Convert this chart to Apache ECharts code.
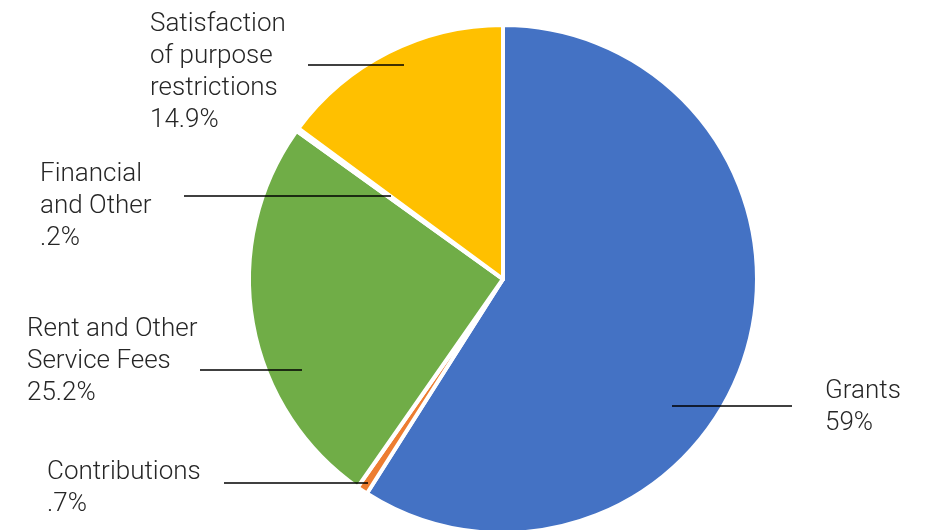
<!DOCTYPE html>
<html>
<head>
<meta charset="utf-8">
<script src="https://cdn.jsdelivr.net/npm/echarts@6/dist/echarts.min.js"></script>
<style>
html,body{margin:0;padding:0;background:#fff;}
#chart{width:925px;height:530px;}
</style>
</head>
<body>
<div id="chart"></div>
<script>
const categories = ["Grants", "Contributions", "Rent and Other\nService Fees", "Financial\nand Other", "Satisfaction\nof purpose\nrestrictions"];
const values = [59, 0.7, 25.2, 0.2, 14.9];
const colors = ["#4472C4", "#ED7D31", "#70AD47", "#A5A5A5", "#FFC000"];

// label placement (style only): text top-left and leader line start/end
const labelPlace = [
  { x: 825, y: 375, line: [[672, 406], [792, 406]] },
  { x: 47,  y: 456, line: [[368, 483], [224, 483]] },
  { x: 27,  y: 313, line: [[302, 370], [200, 370]] },
  { x: 40,  y: 158, line: [[391, 196], [184, 196]] },
  { x: 150, y: 8,   line: [[404, 65],  [308, 65]] }
];

const pieBase = {
  type: 'pie',
  center: [503, 279],
  radius: [0, 254],
  startAngle: 90,
  clockwise: true,
  avoidLabelOverlap: false
};

const chart = echarts.init(document.getElementById('chart'), null, { renderer: 'canvas' });
chart.setOption({
  animation: false,
  backgroundColor: '#ffffff',
  series: [
    Object.assign({}, pieBase, {
      z: 1,
      itemStyle: { borderColor: '#ffffff', borderWidth: 4 },
      label: { show: false },
      labelLine: { show: false },
      data: categories.map((c, i) => ({ name: c, value: values[i], itemStyle: { color: colors[i] } }))
    }),
    Object.assign({}, pieBase, {
      z: 5,
      silent: true,
      itemStyle: { color: 'rgba(0,0,0,0)', borderWidth: 0 },
      label: {
        show: true,
        position: 'outside',
        color: '#262626',
        fontFamily: 'Roboto',
        fontWeight: 300,
        fontSize: 26,
        lineHeight: 32,
        formatter: function (p) {
          const v = String(p.value).replace(/^0\./, '.');
          return p.name + '\n' + v + '%';
        }
      },
      labelLine: { show: true, lineStyle: { color: '#000000', width: 1.3 } },
      labelLayout: function (params) {
        const pl = labelPlace[params.dataIndex];
        return {
          x: pl.x,
          y: pl.y,
          align: 'left',
          verticalAlign: 'top',
          labelLinePoints: [pl.line[0], pl.line[1], pl.line[1]]
        };
      },
      data: categories.map((c, i) => ({ name: c, value: values[i] }))
    })
  ]
});
</script>
</body>
</html>
